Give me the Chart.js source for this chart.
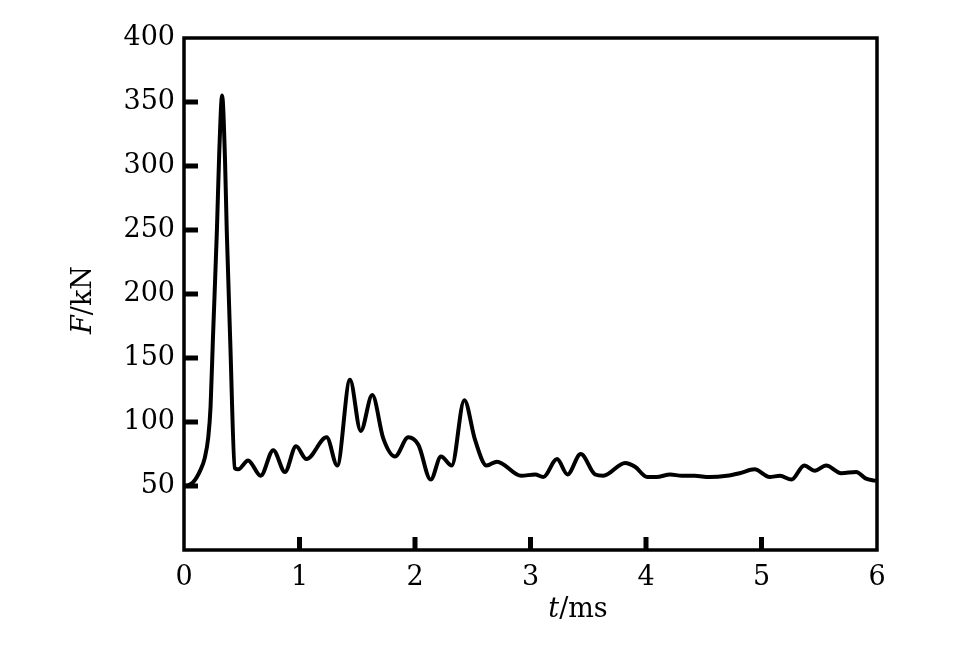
<!DOCTYPE html>
<html>
<head>
<meta charset="utf-8">
<script src="https://cdn.jsdelivr.net/npm/chart.js@4"></script>
<style>
  html, body { margin: 0; padding: 0; background: #fff; }
  #wrap { width: 962px; height: 650px; }
</style>
</head>
<body>
<div id="wrap"><canvas id="forceChart"></canvas></div>
<script>
// time (ms) and force (kN)
const times = [0.02, 0.08, 0.14, 0.18, 0.21, 0.23, 0.25, 0.285, 0.305, 0.33, 0.355, 0.37, 0.40, 0.44,
  0.47, 0.555, 0.664, 0.773, 0.874, 0.97, 1.06, 1.235, 1.327, 1.437, 1.53, 1.63, 1.726,
  1.827, 1.942, 2.03, 2.136, 2.225, 2.318, 2.427, 2.52, 2.62, 2.71, 2.92, 3.04, 3.11,
  3.23, 3.32, 3.435, 3.56, 3.63, 3.82, 3.905, 4.01, 4.09, 4.21, 4.31, 4.42, 4.55, 4.70,
  4.81, 4.94, 5.07, 5.16, 5.26, 5.37, 5.46, 5.56, 5.69, 5.82, 5.90, 5.99];
const forces = [50, 53, 62, 72, 88, 112, 164, 250, 310, 355, 305, 250, 164, 64,
  63, 70, 58, 78, 61, 81, 71, 88, 66, 133, 93, 121, 87,
  73, 88, 82, 55, 73, 66, 117, 86, 66, 69, 58, 59, 57,
  71, 59, 75, 59, 58, 68, 65, 57, 57, 59, 58, 58, 57, 58,
  60, 63, 57, 58, 55, 66, 62, 66, 60, 61, 56, 54];

const xTicks = [0, 1, 2, 3, 4, 5, 6];
const yTicks = [50, 100, 150, 200, 250, 300, 350, 400];

const FONT = '"DejaVu Serif", "Liberation Serif", serif';

// inward ticks, frame box and the mixed italic axis titles
const axisDecor = {
  id: 'axisDecor',
  afterDraw(chart) {
    const { ctx, chartArea: a, scales: { x, y } } = chart;
    ctx.save();
    ctx.strokeStyle = '#000';
    ctx.lineWidth = 5;
    ctx.beginPath();
    xTicks.slice(1, -1).forEach(v => {
      const px = x.getPixelForValue(v);
      ctx.moveTo(px, a.bottom);
      ctx.lineTo(px, a.bottom - 13);
    });
    yTicks.slice(0, -1).forEach(v => {
      const py = y.getPixelForValue(v);
      ctx.moveTo(a.left, py);
      ctx.lineTo(a.left + 14, py);
    });
    ctx.stroke();
    ctx.lineWidth = 3.5;
    ctx.strokeRect(a.left, a.top, a.right - a.left, a.bottom - a.top);

    ctx.fillStyle = '#000';
    ctx.textBaseline = 'alphabetic';
    const drawParts = (parts, cx, cy) => {
      let w = 0;
      parts.forEach(p => { ctx.font = p[1] + ' 27px ' + FONT; w += ctx.measureText(p[0]).width; });
      let cur = cx - w / 2;
      parts.forEach(p => {
        ctx.font = p[1] + ' 27px ' + FONT;
        ctx.textAlign = 'left';
        ctx.fillText(p[0], cur, cy);
        cur += ctx.measureText(p[0]).width;
      });
    };
    drawParts([['t', 'italic'], ['/ms', 'normal']], 578, 617);
    ctx.translate(91, 300);
    ctx.rotate(-Math.PI / 2);
    drawParts([['F', 'italic'], ['/kN', 'normal']], 0, 0);
    ctx.restore();
  }
};

new Chart(document.getElementById('forceChart'), {
  type: 'line',
  data: {
    datasets: [{
      data: times.map((t, i) => ({ x: t, y: forces[i] })),
      borderColor: '#000',
      borderWidth: 4,
      pointRadius: 0,
      cubicInterpolationMode: 'monotone',
      fill: false
    }]
  },
  options: {
    responsive: true,
    maintainAspectRatio: false,
    animation: false,
    layout: { padding: { left: 0, right: 85, top: 38, bottom: 0 } },
    plugins: { legend: { display: false }, tooltip: { enabled: false } },
    scales: {
      x: {
        type: 'linear',
        min: 0,
        max: 6,
        afterBuildTicks: s => { s.ticks = xTicks.map(v => ({ value: v })); },
        afterFit: s => { s.height = 100; },
        grid: { display: false, drawTicks: false },
        border: { display: false },
        ticks: { color: '#000', padding: 12, maxRotation: 0, font: { family: FONT, size: 27 } }
      },
      y: {
        min: 0,
        max: 400,
        afterBuildTicks: s => { s.ticks = yTicks.map(v => ({ value: v })); },
        afterFit: s => { s.width = 184; },
        grid: { display: false, drawTicks: false },
        border: { display: false },
        ticks: { color: '#000', padding: 9, font: { family: FONT, size: 27 } }
      }
    }
  },
  plugins: [axisDecor]
});
</script>
</body>
</html>
